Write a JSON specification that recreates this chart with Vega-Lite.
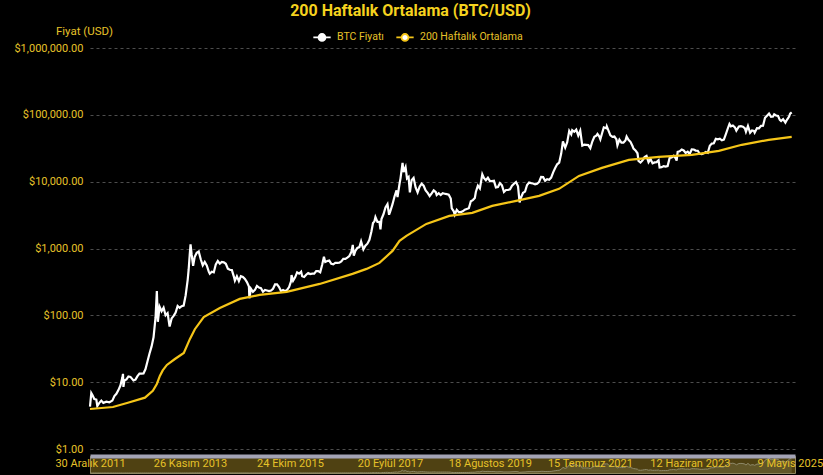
{
  "$schema": "https://vega.github.io/schema/vega-lite/v6.json",
  "background": "#000000",
  "padding": {"left": 13, "top": 3, "right": 0, "bottom": 0},
  "title": {"text": "200 Haftalık Ortalama (BTC/USD)", "fontSize": 16, "fontWeight": "bold", "color": "#F5D21E", "anchor": "middle", "frame": "bounds", "offset": 6, "dx": -8},
  "datasets": {
    "btc": [
      {"d":"2011-12-30","p":4.3},{"d":"2012-01-08","p":6.9},{"d":"2012-01-15","p":6.5},{"d":"2012-01-29","p":5.6},{"d":"2012-02-12","p":5.5},{"d":"2012-02-19","p":4.4},{"d":"2012-03-04","p":4.9},{"d":"2012-03-18","p":5.3},{"d":"2012-04-01","p":4.9},{"d":"2012-04-22","p":5.1},{"d":"2012-05-13","p":5.0},{"d":"2012-06-03","p":5.3},{"d":"2012-06-17","p":6.2},{"d":"2012-07-01","p":6.7},{"d":"2012-07-15","p":7.6},{"d":"2012-07-29","p":8.9},{"d":"2012-08-12","p":11.8},{"d":"2012-08-16","p":13.3},{"d":"2012-08-19","p":8.5},{"d":"2012-08-26","p":10.6},{"d":"2012-09-09","p":11.0},{"d":"2012-09-23","p":12.2},{"d":"2012-10-07","p":12.0},{"d":"2012-10-28","p":10.6},{"d":"2012-11-11","p":10.9},{"d":"2012-11-25","p":12.3},{"d":"2012-12-09","p":13.4},{"d":"2012-12-23","p":13.4},
      {"d":"2013-01-06","p":13.5},{"d":"2013-01-20","p":15.7},{"d":"2013-02-03","p":20.5},{"d":"2013-02-17","p":26.8},{"d":"2013-03-03","p":34},{"d":"2013-03-17","p":47},{"d":"2013-03-31","p":93},{"d":"2013-04-09","p":230},{"d":"2013-04-16","p":80},{"d":"2013-04-28","p":135},{"d":"2013-05-12","p":115},{"d":"2013-05-26","p":130},{"d":"2013-06-09","p":100},{"d":"2013-06-23","p":108},{"d":"2013-07-07","p":68},{"d":"2013-07-21","p":90},{"d":"2013-08-04","p":98},{"d":"2013-08-18","p":110},{"d":"2013-09-01","p":138},{"d":"2013-09-15","p":130},{"d":"2013-09-29","p":137},{"d":"2013-10-13","p":140},{"d":"2013-10-27","p":200},{"d":"2013-11-10","p":340},{"d":"2013-11-17","p":490},{"d":"2013-11-24","p":800},{"d":"2013-11-30","p":1150},{"d":"2013-12-08","p":800},{"d":"2013-12-18","p":550},{"d":"2013-12-29","p":750},
      {"d":"2014-01-12","p":860},{"d":"2014-01-26","p":900},{"d":"2014-02-09","p":690},{"d":"2014-02-23","p":560},{"d":"2014-03-09","p":630},{"d":"2014-03-23","p":560},{"d":"2014-04-06","p":450},{"d":"2014-04-13","p":420},{"d":"2014-04-27","p":450},{"d":"2014-05-11","p":440},{"d":"2014-05-25","p":580},{"d":"2014-06-08","p":650},{"d":"2014-06-22","p":595},{"d":"2014-07-06","p":630},{"d":"2014-07-20","p":620},{"d":"2014-08-03","p":590},{"d":"2014-08-17","p":500},{"d":"2014-08-31","p":480},{"d":"2014-09-14","p":475},{"d":"2014-09-28","p":380},{"d":"2014-10-05","p":330},{"d":"2014-10-19","p":385},{"d":"2014-11-02","p":325},{"d":"2014-11-16","p":385},{"d":"2014-11-30","p":375},{"d":"2014-12-14","p":350},{"d":"2014-12-28","p":315},
      {"d":"2015-01-11","p":270},{"d":"2015-01-14","p":180},{"d":"2015-01-25","p":250},{"d":"2015-02-08","p":225},{"d":"2015-02-22","p":240},{"d":"2015-03-08","p":275},{"d":"2015-03-22","p":260},{"d":"2015-04-05","p":255},{"d":"2015-04-19","p":225},{"d":"2015-05-03","p":240},{"d":"2015-05-17","p":235},{"d":"2015-05-31","p":230},{"d":"2015-06-14","p":235},{"d":"2015-06-28","p":250},{"d":"2015-07-12","p":290},{"d":"2015-07-26","p":290},{"d":"2015-08-09","p":265},{"d":"2015-08-23","p":230},{"d":"2015-09-06","p":240},{"d":"2015-09-20","p":230},{"d":"2015-10-04","p":240},{"d":"2015-10-18","p":265},{"d":"2015-11-01","p":325},{"d":"2015-11-04","p":400},{"d":"2015-11-15","p":330},{"d":"2015-11-29","p":370},{"d":"2015-12-13","p":440},{"d":"2015-12-27","p":420},
      {"d":"2016-01-10","p":450},{"d":"2016-01-17","p":385},{"d":"2016-01-31","p":375},{"d":"2016-02-14","p":405},{"d":"2016-02-28","p":430},{"d":"2016-03-13","p":415},{"d":"2016-03-27","p":420},{"d":"2016-04-10","p":420},{"d":"2016-04-24","p":460},{"d":"2016-05-08","p":460},{"d":"2016-05-22","p":440},{"d":"2016-06-05","p":575},{"d":"2016-06-17","p":750},{"d":"2016-06-26","p":630},{"d":"2016-07-10","p":650},{"d":"2016-07-24","p":660},{"d":"2016-08-07","p":590},{"d":"2016-08-21","p":580},{"d":"2016-09-04","p":610},{"d":"2016-09-18","p":610},{"d":"2016-10-02","p":615},{"d":"2016-10-16","p":640},{"d":"2016-10-30","p":700},{"d":"2016-11-13","p":700},{"d":"2016-11-27","p":730},{"d":"2016-12-11","p":770},{"d":"2016-12-25","p":890},
      {"d":"2017-01-04","p":1130},{"d":"2017-01-11","p":780},{"d":"2017-01-22","p":920},{"d":"2017-02-05","p":1020},{"d":"2017-02-19","p":1050},{"d":"2017-03-03","p":1280},{"d":"2017-03-19","p":970},{"d":"2017-04-02","p":1100},{"d":"2017-04-16","p":1180},{"d":"2017-04-30","p":1350},{"d":"2017-05-14","p":1800},{"d":"2017-05-25","p":2400},{"d":"2017-06-04","p":2550},{"d":"2017-06-11","p":2950},{"d":"2017-06-25","p":2500},{"d":"2017-07-09","p":2500},{"d":"2017-07-16","p":1930},{"d":"2017-07-23","p":2750},{"d":"2017-08-06","p":3250},{"d":"2017-08-20","p":4100},{"d":"2017-09-03","p":4600},{"d":"2017-09-14","p":3200},{"d":"2017-09-24","p":3700},{"d":"2017-10-08","p":4600},{"d":"2017-10-22","p":6000},{"d":"2017-11-05","p":7400},{"d":"2017-11-12","p":5900},{"d":"2017-11-26","p":9300},{"d":"2017-12-03","p":11300},{"d":"2017-12-17","p":19100},{"d":"2017-12-24","p":13900},
      {"d":"2018-01-07","p":16500},{"d":"2018-01-17","p":11200},{"d":"2018-01-28","p":11800},{"d":"2018-02-06","p":6900},{"d":"2018-02-18","p":10500},{"d":"2018-03-04","p":11400},{"d":"2018-03-18","p":8200},{"d":"2018-04-01","p":6900},{"d":"2018-04-15","p":8400},{"d":"2018-04-29","p":9300},{"d":"2018-05-13","p":8700},{"d":"2018-05-27","p":7400},{"d":"2018-06-10","p":6800},{"d":"2018-06-24","p":6100},{"d":"2018-07-08","p":6700},{"d":"2018-07-22","p":7400},{"d":"2018-08-05","p":7000},{"d":"2018-08-12","p":6300},{"d":"2018-08-26","p":6700},{"d":"2018-09-09","p":6300},{"d":"2018-09-23","p":6700},{"d":"2018-10-07","p":6600},{"d":"2018-10-21","p":6500},{"d":"2018-11-04","p":6400},{"d":"2018-11-18","p":5600},{"d":"2018-11-25","p":4000},{"d":"2018-12-09","p":3600},{"d":"2018-12-16","p":3200},{"d":"2018-12-30","p":3800},
      {"d":"2019-01-13","p":3500},{"d":"2019-01-27","p":3500},{"d":"2019-02-10","p":3600},{"d":"2019-02-24","p":3800},{"d":"2019-03-10","p":3900},{"d":"2019-03-24","p":4000},{"d":"2019-04-07","p":5100},{"d":"2019-04-21","p":5300},{"d":"2019-05-05","p":5700},{"d":"2019-05-12","p":7000},{"d":"2019-05-26","p":8700},{"d":"2019-06-09","p":7900},{"d":"2019-06-26","p":12900},{"d":"2019-07-07","p":11400},{"d":"2019-07-21","p":10500},{"d":"2019-08-04","p":11500},{"d":"2019-08-18","p":10200},{"d":"2019-09-01","p":10200},{"d":"2019-09-15","p":10300},{"d":"2019-09-29","p":8200},{"d":"2019-10-13","p":8300},{"d":"2019-10-27","p":9500},{"d":"2019-11-10","p":8800},{"d":"2019-11-24","p":7000},{"d":"2019-12-08","p":7500},{"d":"2019-12-22","p":7500},
      {"d":"2020-01-05","p":7700},{"d":"2020-01-19","p":8700},{"d":"2020-02-02","p":9300},{"d":"2020-02-16","p":9900},{"d":"2020-03-01","p":8500},{"d":"2020-03-12","p":4900},{"d":"2020-03-22","p":5800},{"d":"2020-04-05","p":6800},{"d":"2020-04-19","p":7100},{"d":"2020-05-03","p":8900},{"d":"2020-05-17","p":9700},{"d":"2020-05-31","p":9500},{"d":"2020-06-14","p":9400},{"d":"2020-06-28","p":9100},{"d":"2020-07-12","p":9300},{"d":"2020-07-26","p":9900},{"d":"2020-08-09","p":11800},{"d":"2020-08-23","p":11700},{"d":"2020-09-06","p":10300},{"d":"2020-09-20","p":10900},{"d":"2020-10-04","p":10700},{"d":"2020-10-18","p":11500},{"d":"2020-11-01","p":13800},{"d":"2020-11-15","p":16000},{"d":"2020-11-29","p":18200},{"d":"2020-12-13","p":19200},{"d":"2020-12-27","p":26300},
      {"d":"2021-01-08","p":40000},{"d":"2021-01-24","p":32300},{"d":"2021-02-07","p":39000},{"d":"2021-02-21","p":57500},{"d":"2021-03-07","p":51000},{"d":"2021-03-14","p":59000},{"d":"2021-03-28","p":55800},{"d":"2021-04-11","p":60000},{"d":"2021-04-25","p":49000},{"d":"2021-05-09","p":58000},{"d":"2021-05-23","p":34700},{"d":"2021-06-06","p":35800},{"d":"2021-06-20","p":35600},{"d":"2021-07-04","p":35300},{"d":"2021-07-18","p":31800},{"d":"2021-08-01","p":39900},{"d":"2021-08-15","p":47000},{"d":"2021-08-29","p":48800},{"d":"2021-09-06","p":51700},{"d":"2021-09-19","p":47300},{"d":"2021-09-26","p":43200},{"d":"2021-10-10","p":55000},{"d":"2021-10-20","p":65000},{"d":"2021-11-07","p":63000},{"d":"2021-11-10","p":67000},{"d":"2021-11-21","p":58600},{"d":"2021-12-05","p":49400},{"d":"2021-12-19","p":46700},
      {"d":"2022-01-02","p":47300},{"d":"2022-01-16","p":43000},{"d":"2022-01-23","p":35000},{"d":"2022-02-06","p":42400},{"d":"2022-02-20","p":38400},{"d":"2022-03-06","p":38400},{"d":"2022-03-20","p":41300},{"d":"2022-03-28","p":47400},{"d":"2022-04-10","p":42200},{"d":"2022-04-24","p":39500},{"d":"2022-05-08","p":34100},{"d":"2022-05-15","p":31300},{"d":"2022-05-29","p":29400},{"d":"2022-06-12","p":26600},{"d":"2022-06-19","p":20500},{"d":"2022-07-03","p":19300},{"d":"2022-07-17","p":20800},{"d":"2022-07-31","p":23300},{"d":"2022-08-14","p":24300},{"d":"2022-08-28","p":19600},{"d":"2022-09-11","p":21800},{"d":"2022-09-25","p":18800},{"d":"2022-10-09","p":19400},{"d":"2022-10-23","p":19600},{"d":"2022-11-06","p":20900},{"d":"2022-11-13","p":16300},{"d":"2022-11-27","p":16500},{"d":"2022-12-11","p":17100},{"d":"2022-12-25","p":16800},
      {"d":"2023-01-08","p":17100},{"d":"2023-01-22","p":22700},{"d":"2023-02-05","p":23000},{"d":"2023-02-19","p":24300},{"d":"2023-03-05","p":22400},{"d":"2023-03-12","p":20600},{"d":"2023-03-19","p":28000},{"d":"2023-04-02","p":28500},{"d":"2023-04-16","p":30300},{"d":"2023-04-30","p":29300},{"d":"2023-05-14","p":26900},{"d":"2023-05-28","p":28100},{"d":"2023-06-11","p":25900},{"d":"2023-06-25","p":30500},{"d":"2023-07-09","p":30300},{"d":"2023-07-23","p":29200},{"d":"2023-08-06","p":29000},{"d":"2023-08-20","p":26100},{"d":"2023-09-03","p":25900},{"d":"2023-09-17","p":26500},{"d":"2023-10-01","p":27900},{"d":"2023-10-15","p":27100},{"d":"2023-10-29","p":34500},{"d":"2023-11-12","p":37100},{"d":"2023-11-26","p":37500},{"d":"2023-12-10","p":43800},{"d":"2023-12-24","p":43000},
      {"d":"2024-01-07","p":44000},{"d":"2024-01-21","p":41600},{"d":"2024-02-04","p":42600},{"d":"2024-02-18","p":51600},{"d":"2024-03-03","p":63000},{"d":"2024-03-14","p":73000},{"d":"2024-03-24","p":67200},{"d":"2024-04-07","p":69300},{"d":"2024-04-21","p":64900},{"d":"2024-05-01","p":58000},{"d":"2024-05-19","p":66900},{"d":"2024-06-02","p":67800},{"d":"2024-06-16","p":66600},{"d":"2024-06-30","p":62700},{"d":"2024-07-07","p":55800},{"d":"2024-07-21","p":68000},{"d":"2024-08-05","p":54000},{"d":"2024-08-18","p":58400},{"d":"2024-09-01","p":57300},{"d":"2024-09-06","p":54000},{"d":"2024-09-22","p":63300},{"d":"2024-10-06","p":63000},{"d":"2024-10-20","p":68400},{"d":"2024-11-03","p":68800},{"d":"2024-11-17","p":90500},{"d":"2024-12-01","p":97200},{"d":"2024-12-15","p":104400},{"d":"2024-12-29","p":93700},
      {"d":"2025-01-12","p":94500},{"d":"2025-01-20","p":102000},{"d":"2025-02-02","p":97700},{"d":"2025-02-16","p":96000},{"d":"2025-02-28","p":84000},{"d":"2025-03-09","p":80700},{"d":"2025-03-23","p":86000},{"d":"2025-04-08","p":76300},{"d":"2025-04-20","p":85000},{"d":"2025-05-04","p":94300},{"d":"2025-05-11","p":104000},{"d":"2025-05-22","p":109000}
    ],
    "ma": [
      {"d":"2011-12-30","p":3.97},{"d":"2012-06-07","p":4.25},{"d":"2012-09-19","p":4.93},{"d":"2013-01-16","p":5.86},{"d":"2013-03-12","p":7.4},{"d":"2013-04-09","p":9.4},{"d":"2013-04-30","p":12.4},{"d":"2013-05-20","p":15},{"d":"2013-06-18","p":18.1},{"d":"2013-08-13","p":22.2},{"d":"2013-10-14","p":27.4},{"d":"2013-11-25","p":44},{"d":"2013-12-30","p":62},{"d":"2014-03-02","p":94},{"d":"2014-06-22","p":129},{"d":"2014-11-08","p":176},{"d":"2015-03-27","p":202},{"d":"2015-10-01","p":224},{"d":"2016-05-18","p":295},{"d":"2017-01-02","p":417},{"d":"2017-04-10","p":495},{"d":"2017-07-09","p":609},{"d":"2017-10-08","p":920},{"d":"2017-11-26","p":1300},{"d":"2018-01-13","p":1544},{"d":"2018-06-01","p":2335},{"d":"2018-11-08","p":3077},{"d":"2019-04-17","p":3412},{"d":"2019-09-03","p":4345},{"d":"2020-02-17","p":5164},{"d":"2020-07-26","p":6128},{"d":"2020-12-12","p":7800},{"d":"2021-04-30","p":12200},{"d":"2021-10-07","p":16100},{"d":"2022-04-13","p":21200},{"d":"2022-11-08","p":23500},{"d":"2023-06-26","p":25200},{"d":"2023-12-31","p":28900},{"d":"2024-06-08","p":35600},{"d":"2024-12-13","p":42300},{"d":"2025-05-22","p":46900}
    ]
  },
  "vconcat": [
    {
      "width": 705,
      "height": 401,
      "layer": [
        {
          "data": {"name": "btc"},
          "mark": {"type": "line", "strokeWidth": 2.2},
          "encoding": {
            "x": {"field": "d", "type": "temporal", "scale": {"type": "utc", "domain": [{"year": 2011, "month": 12, "date": 30, "utc": true}, {"year": 2025, "month": 6, "date": 14, "utc": true}]}, "axis": null},
            "y": {"field": "p", "type": "quantitative", "scale": {"type": "log", "domain": [1, 1000000], "nice": false}, "axis": {"values": [1, 10, 100, 1000, 10000, 100000, 1000000], "format": "$,.2f", "title": "Fiyat (USD)", "titleAngle": 0, "titleX": -6, "titleY": -17, "titleAlign": "center", "titleBaseline": "middle", "titleFontSize": 11.5, "titleFontWeight": "normal", "titleColor": "#E6C229", "labelColor": "#E6C229", "labelFontSize": 11, "labelPadding": 7, "ticks": false, "domain": false, "grid": true, "gridColor": "#4d4d4d", "gridDash": [3, 3], "gridWidth": 1}},
            "color": {"datum": "BTC Fiyatı", "scale": {"domain": ["BTC Fiyatı", "200 Haftalık Ortalama"], "range": ["#ffffff", "#F5C518"]}, "legend": {"orient": "none", "legendX": 222, "legendY": -21, "direction": "horizontal", "title": null, "labelColor": "#E6C229", "labelFontSize": 10.5, "symbolType": "M-1,0H-0.4M0.4,0H1M-0.4,0A0.4,0.4,0,1,1,0.4,0A0.4,0.4,0,1,1,-0.4,0", "symbolSize": 300, "symbolStrokeWidth": 1.8, "symbolFillColor": "#ffffff", "columnPadding": 8, "labelOffset": 5}}
          }
        },
        {
          "data": {"name": "ma"},
          "mark": {"type": "line", "strokeWidth": 2.2},
          "encoding": {
            "x": {"field": "d", "type": "temporal"},
            "y": {"field": "p", "type": "quantitative"},
            "color": {"datum": "200 Haftalık Ortalama"}
          }
        }
      ]
    },
    {
      "width": 705,
      "height": 17,
      "data": {"name": "btc"},
      "view": {"fill": "#4f4112", "stroke": "#8d855e"},
      "mark": {"type": "area", "color": "#6a6032", "line": {"color": "#8f8a6a", "strokeWidth": 1}},
      "encoding": {
        "x": {"field": "d", "type": "temporal", "scale": {"type": "utc", "domain": [{"year": 2011, "month": 12, "date": 30, "utc": true}, {"year": 2025, "month": 6, "date": 14, "utc": true}]}, "axis": {"orient": "top", "zindex": 1, "title": null, "values": [{"year": 2011, "month": 12, "date": 30, "utc": true}, {"year": 2013, "month": 11, "date": 26, "utc": true}, {"year": 2015, "month": 10, "date": 24, "utc": true}, {"year": 2017, "month": 9, "date": 20, "utc": true}, {"year": 2019, "month": 8, "date": 18, "utc": true}, {"year": 2021, "month": 7, "date": 15, "utc": true}, {"year": 2023, "month": 6, "date": 12, "utc": true}, {"year": 2025, "month": 5, "date": 9, "utc": true}], "labelExpr": "utcdate(datum.value) + ' ' + ['Ocak','Şubat','Mart','Nisan','Mayıs','Haziran','Temmuz','Ağustos','Eylül','Ekim','Kasım','Aralık'][utcmonth(datum.value)] + ' ' + utcyear(datum.value)", "labelColor": "#E6C229", "labelFontSize": 11, "labelBaseline": "middle", "labelPadding": -7, "ticks": false, "tickSize": 0, "labelFlush": false, "labelOverlap": false, "grid": false, "domain": true, "domainColor": "#a3a3b5", "domainWidth": 4}},
        "y": {"field": "p", "type": "quantitative", "scale": {"domain": [0, 120000]}, "axis": null}
      }
    }
  ],
  "spacing": 7,
  "bounds": "flush",
  "config": {
    "font": "Roboto",
    "view": {"stroke": null}
  }
}
